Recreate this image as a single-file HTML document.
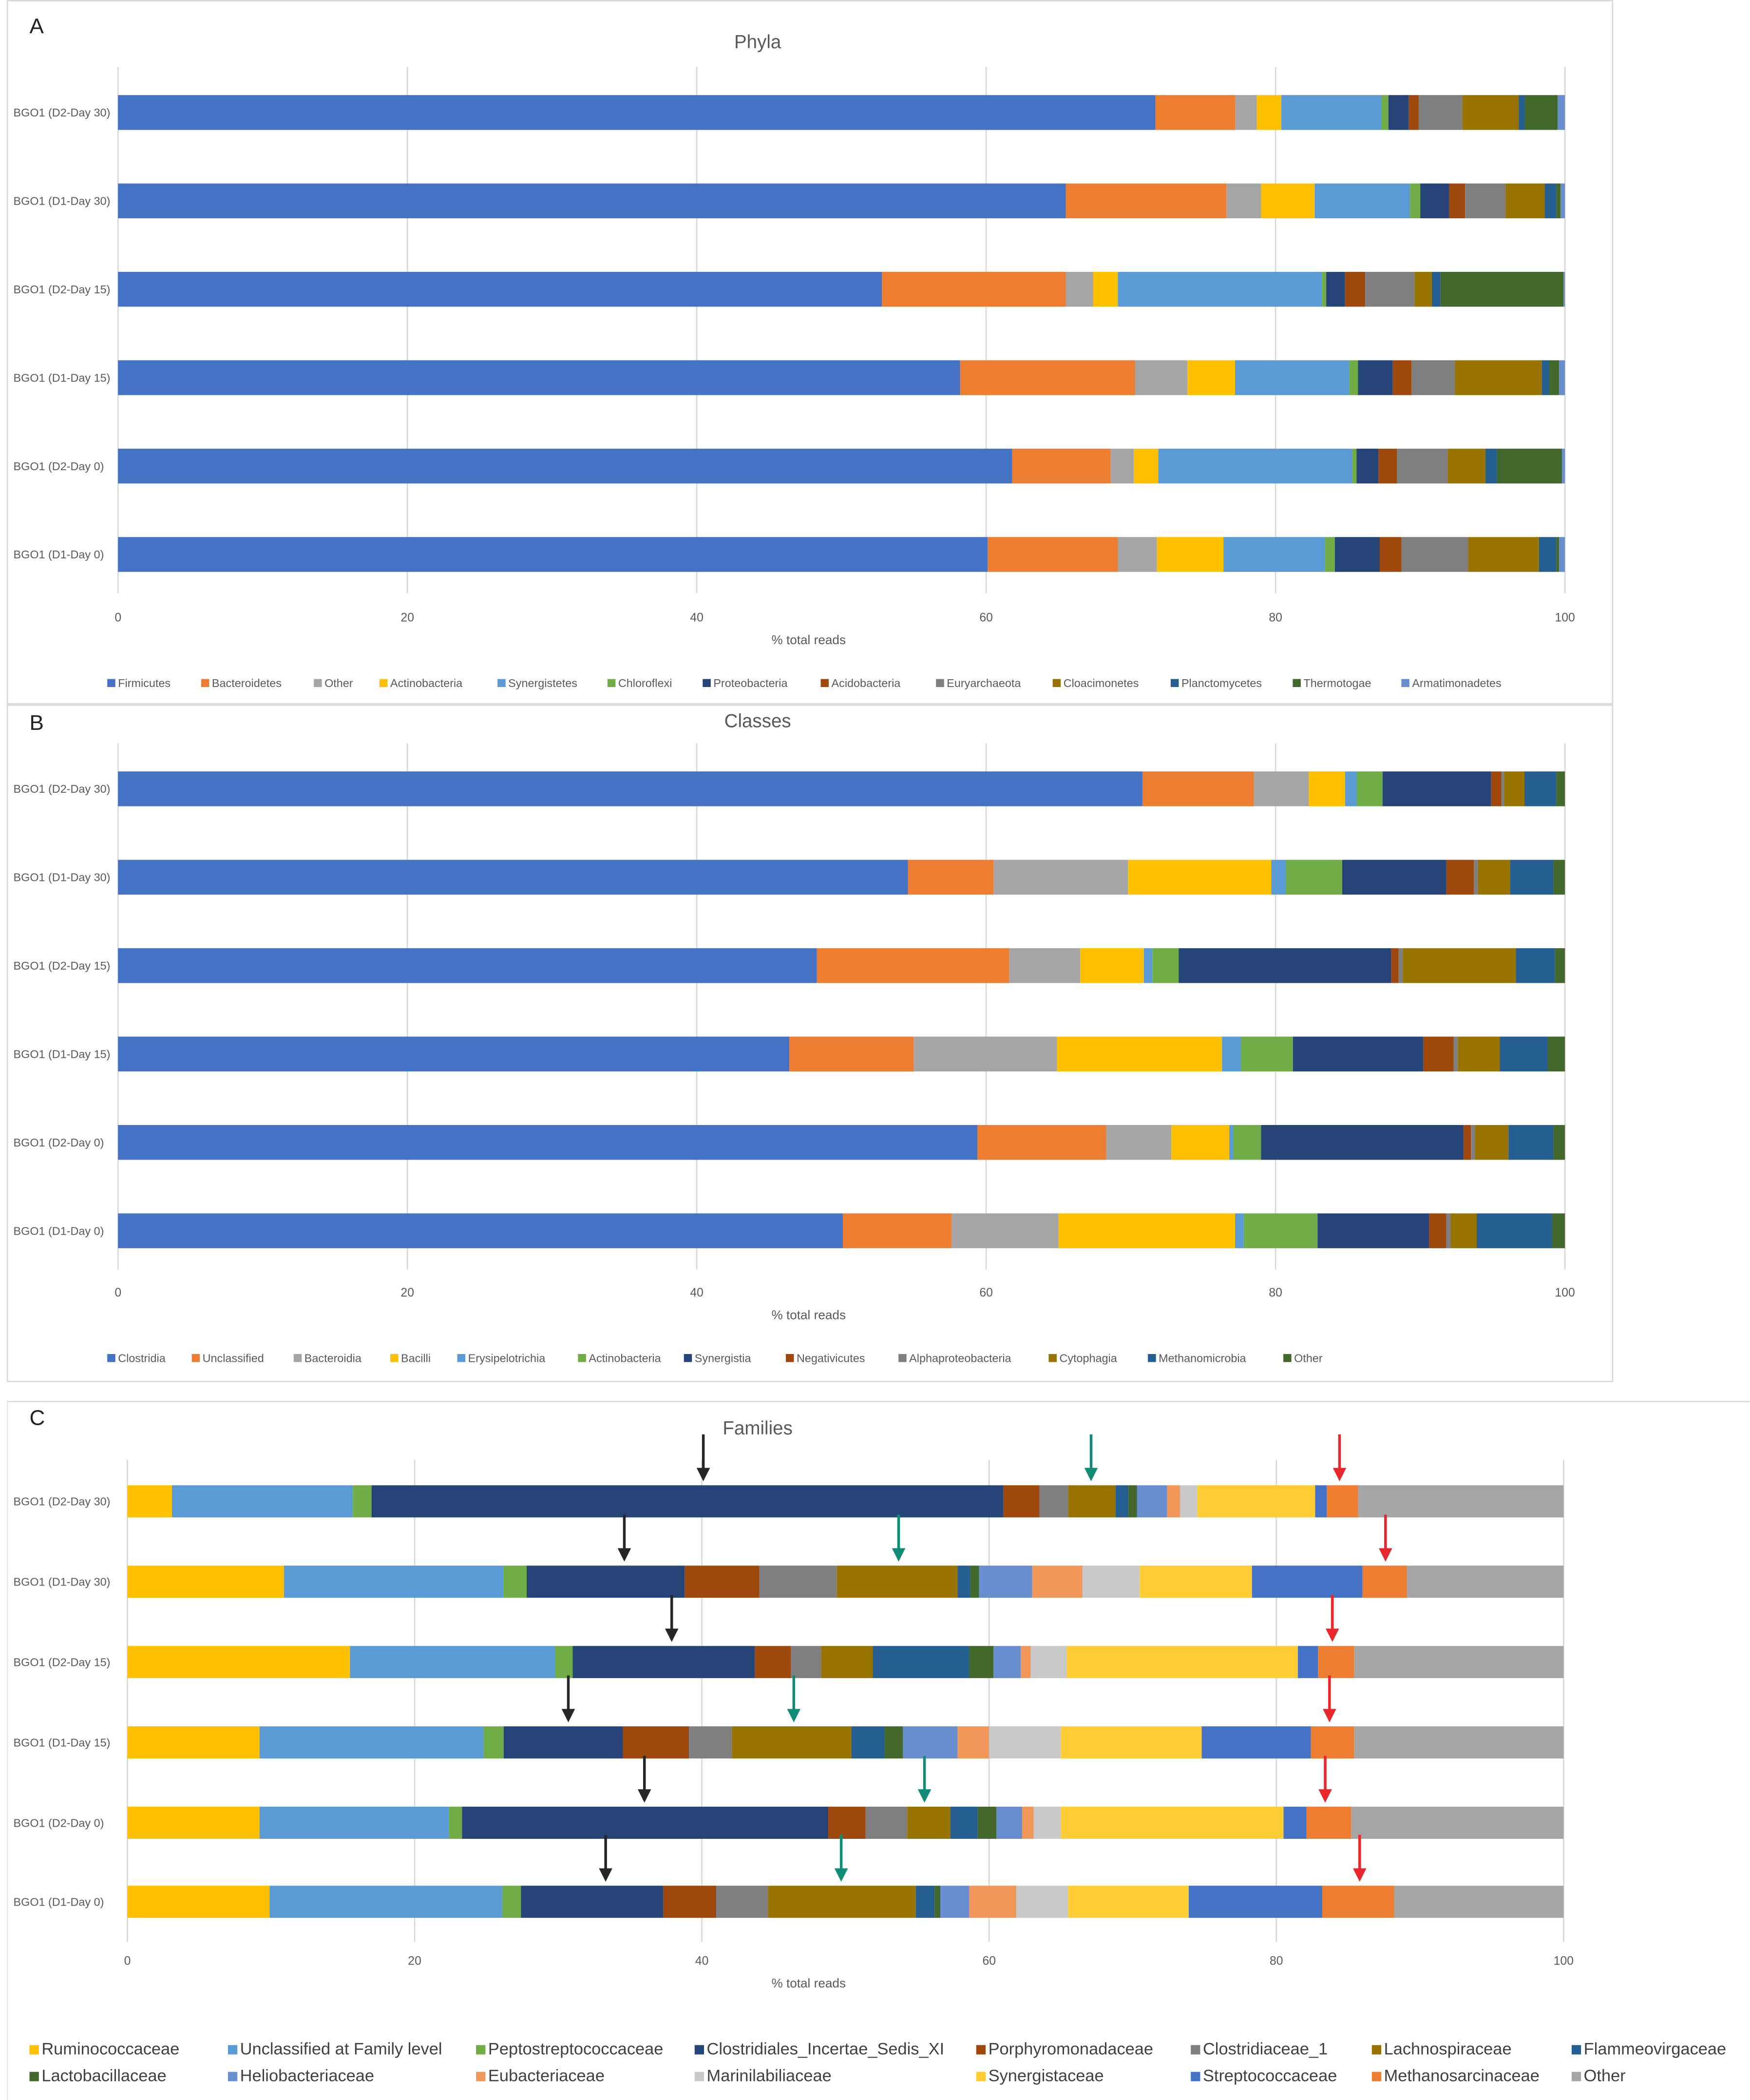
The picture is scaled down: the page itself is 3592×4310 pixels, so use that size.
<!DOCTYPE html>
<html><head><meta charset="utf-8"><style>
html,body{margin:0;padding:0;background:#fff;}
svg{display:block;font-family:"Liberation Sans",sans-serif;}
</style></head><body>
<svg id="fig" width="3592" height="4310" viewBox="0 0 1305 1568" preserveAspectRatio="none" xmlns="http://www.w3.org/2000/svg">
<rect x="0" y="0" width="1305" height="1568" fill="#fff"/>
<rect x="5.5" y="0.5" width="1197" height="525" fill="none" stroke="#d9d9d9"/>
<rect x="5.5" y="526.5" width="1197" height="505" fill="none" stroke="#d9d9d9"/>
<line x1="5" y1="1046.5" x2="1305" y2="1046.5" stroke="#d9d9d9"/>
<line x1="5.5" y1="1046" x2="5.5" y2="1568" stroke="#e8e8e8"/>
<g id="root"></g>
</svg>
<script>
// ---------- shared ----------
const samples = ["BGO1 (D2-Day 30)","BGO1 (D1-Day 30)","BGO1 (D2-Day 15)","BGO1 (D1-Day 15)","BGO1 (D2-Day 0)","BGO1 (D1-Day 0)"];
const tickValues = [0,20,40,60,80,100];
const tickLabels = ["0","20","40","60","80","100"];

// ---------- Panel A: Phyla ----------
const phyla = ["Firmicutes","Bacteroidetes","Other","Actinobacteria","Synergistetes","Chloroflexi","Proteobacteria","Acidobacteria","Euryarchaeota","Cloacimonetes","Planctomycetes","Thermotogae","Armatimonadetes"];
const phylaD2Day30 = [71.7,5.5,1.5,1.7,6.9,0.5,1.4,0.7,3.0,3.9,0.4,2.3,0.5];
const phylaD1Day30 = [65.5,11.1,2.4,3.7,6.6,0.7,2.0,1.1,2.8,2.7,0.8,0.3,0.3];
const phylaD2Day15 = [52.8,12.7,1.9,1.7,14.1,0.3,1.3,1.4,3.4,1.2,0.6,8.5,0.1];
const phylaD1Day15 = [58.2,12.1,3.6,3.3,7.9,0.6,2.4,1.3,3.0,6.0,0.5,0.7,0.4];
const phylaD2Day0 = [61.8,6.8,1.6,1.7,13.4,0.3,1.5,1.3,3.5,2.6,0.8,4.5,0.2];
const phylaD1Day0 = [60.1,9.0,2.7,4.6,7.0,0.7,3.1,1.5,4.6,4.9,1.2,0.2,0.4];

// ---------- Panel B: Classes ----------
const classes = ["Clostridia","Unclassified","Bacteroidia","Bacilli","Erysipelotrichia","Actinobacteria","Synergistia","Negativicutes","Alphaproteobacteria","Cytophagia","Methanomicrobia","Other"];
const classD2Day30 = [70.8,7.7,3.8,2.5,0.8,1.8,7.5,0.7,0.2,1.4,2.2,0.6];
const classD1Day30 = [54.6,5.9,9.3,9.9,1.0,3.9,7.2,1.9,0.3,2.2,3.0,0.8];
const classD2Day15 = [48.3,13.3,4.9,4.4,0.6,1.8,14.7,0.5,0.3,7.8,2.7,0.7];
const classD1Day15 = [46.4,8.6,9.9,11.4,1.3,3.6,9.0,2.1,0.3,2.9,3.3,1.2];
const classD2Day0 = [59.4,8.9,4.5,4.0,0.3,1.9,14.0,0.5,0.3,2.3,3.1,0.8];
const classD1Day0 = [50.1,7.5,7.4,12.2,0.6,5.1,7.7,1.2,0.3,1.8,5.2,0.9];

// ---------- Panel C: Families ----------
const families = ["Ruminococcaceae","Unclassified at Family level","Peptostreptococcaceae","Clostridiales_Incertae_Sedis_XI","Porphyromonadaceae","Clostridiaceae_1","Lachnospiraceae","Flammeovirgaceae","Lactobacillaceae","Heliobacteriaceae","Eubacteriaceae","Marinilabiliaceae","Synergistaceae","Streptococcaceae","Methanosarcinaceae","Other"];
const famD2Day30 = [3.1,12.6,1.3,44.0,2.5,2.0,3.3,0.9,0.6,2.1,0.9,1.2,8.2,0.8,2.2,14.3];
const famD1Day30 = [10.9,15.3,1.6,11.0,5.2,5.4,8.4,0.9,0.6,3.7,3.5,4.0,7.8,7.7,3.1,10.9];
const famD2Day15 = [15.5,14.3,1.2,12.7,2.5,2.1,3.6,6.7,1.7,1.9,0.7,2.5,16.1,1.4,2.5,14.6];
const famD1Day15 = [9.2,15.6,1.4,8.3,4.6,3.0,8.3,2.3,1.3,3.8,2.2,5.0,9.8,7.6,3.0,14.6];
const famD2Day0 = [9.2,13.2,0.9,25.5,2.6,2.9,3.0,1.9,1.3,1.8,0.8,1.9,15.5,1.6,3.1,14.8];
const famD1Day0 = [9.9,16.2,1.3,9.9,3.7,3.6,10.3,1.3,0.4,2.0,3.3,3.6,8.4,9.3,5.0,11.8];
// annotation arrows (% position, one per sample row; null = none)
const arrowsBlack = [40.1,34.6,37.9,30.7,36.0,33.3];
const arrowsTeal = [67.1,53.7,null,46.4,55.5,49.7];
const arrowsRed = [84.4,87.6,83.9,83.7,83.4,85.8];

const colA = ['#4472C4','#ED7D31','#A5A5A5','#FFC000','#5B9BD5','#70AD47','#264478','#9E480E','#7F7F7F','#997300','#255E91','#43682B','#698ED0'];
const colB = ['#4472C4','#ED7D31','#A5A5A5','#FFC000','#5B9BD5','#70AD47','#264478','#9E480E','#7F7F7F','#997300','#255E91','#43682B'];
const colC = ['#FFC000','#5B9BD5','#70AD47','#264478','#9E480E','#7F7F7F','#997300','#255E91','#43682B','#698ED0','#F1975A','#C9C9C9','#FFCD33','#4472C4','#ED7D31','#A5A5A5'];

const NS = "http://www.w3.org/2000/svg";
const root = document.getElementById('root');
function mk(tag, attrs, parent, text){
  const e = document.createElementNS(NS, tag);
  for (const k in attrs) e.setAttribute(k, attrs[k]);
  if (text !== undefined) e.textContent = text;
  (parent||root).appendChild(e);
  return e;
}
function slug(s){return s.toLowerCase().replace(/[^a-z0-9]+/g,'-').replace(/^-|-$/g,'');}

function panel(p){
  const g = mk('g', {});
  
  
  const xs = v => p.x0 + (p.x1 - p.x0) * v / 100;
  const letter = mk('text', {x:p.letterX, y:p.letterY, 'font-size':16, fill:'#222'}, g, p.letter);
  
  
  const title = mk('text', {x:565, y:p.titleY, 'font-size':14, fill:'#595959', 'text-anchor':'middle'}, g, p.title);
  
  
  tickValues.forEach((t,i)=>{
    const l = mk('line', {x1:xs(t), x2:xs(t), y1:p.gridTop, y2:p.gridBot, stroke:'#d9d9d9', 'stroke-width':1}, g);
    
    
    const tx = mk('text', {x:xs(t), y:p.tickY, 'font-size':9, fill:'#595959', 'text-anchor':'middle'}, g, tickLabels[i]);
    
    
  });
  const at = mk('text', {x:603, y:p.axisTitleY, 'font-size':9.5, fill:'#595959', 'text-anchor':'middle'}, g, '% total reads');
  
  
  p.rows.forEach((vals, r)=>{
    const cy = p.rowY[r];
    const lab = mk('text', {x:10, y:cy+3, 'font-size':8.5, fill:'#595959'}, g, samples[r]);
    
    
    let acc = 0;
    vals.forEach((v,i)=>{
      const x = xs(acc), w = xs(acc+v) - x;
      const rc = mk('rect', {x:x, y:cy - p.barH/2, width:Math.max(w,0), height:p.barH, fill:p.colors[i]}, g);
      
      
      acc += v;
    });
  });
  // legend
  p.cats.forEach((c,i)=>{
    const pos = p.legendPos(i);
    const lg = mk('g', {}, g);
    
    
    mk('rect', {x:pos[0], y:pos[1]-p.legSq+1, width:p.legSq, height:p.legSq, fill:p.colors[i]}, lg);
    mk('text', {x:pos[0]+p.legSq+2, y:pos[1]+1, 'font-size':p.legFont, fill:p.legColor}, lg, c);
  });
  return {g, xs};
}

const legAx = [80,150,234,283,371,453,524,612,698,785,873,964,1045];
const legBx = [80,143,219,291,341,431,510,586,670,782,856,957];
const legCx = [22,170,355,518,728,888,1023,1172];

panel({id:'phyla', letter:'A', letterX:22, letterY:25, title:'Phyla', titleY:36,
  x0:88, x1:1167, gridTop:50, gridBot:443, tickY:464, axisTitleY:481,
  rowY:[84,150,216,282,348,414], barH:26,
  rows:[phylaD2Day30,phylaD1Day30,phylaD2Day15,phylaD1Day15,phylaD2Day0,phylaD1Day0],
  cats:phyla, colors:colA, legSq:6, legFont:8.5, legColor:'#595959',
  legendPos:i=>[legAx[i],512]});

panel({id:'classes', letter:'B', letterX:22, letterY:545, title:'Classes', titleY:543,
  x0:88, x1:1167, gridTop:555, gridBot:948, tickY:968, axisTitleY:985,
  rowY:[589,655,721,787,853,919], barH:26,
  rows:[classD2Day30,classD1Day30,classD2Day15,classD1Day15,classD2Day0,classD1Day0],
  cats:classes, colors:colB, legSq:6, legFont:8.5, legColor:'#595959',
  legendPos:i=>[legBx[i],1016]});

const pc = panel({id:'families', letter:'C', letterX:22, letterY:1064, title:'Families', titleY:1071,
  x0:95, x1:1166, gridTop:1090, gridBot:1450, tickY:1467, axisTitleY:1484,
  rowY:[1121,1181,1241,1301,1361,1420], barH:24,
  rows:[famD2Day30,famD1Day30,famD2Day15,famD1Day15,famD2Day0,famD1Day0],
  cats:families, colors:colC, legSq:7, legFont:12.5, legColor:'#404040',
  legendPos:i=>[legCx[i%8], i<8 ? 1533 : 1553]});

// arrows
const rowTopsC = [1109,1169,1229,1289,1349,1408];
function arrows(arr, color, name){
  arr.forEach((v,r)=>{
    if (v === null) return;
    const x = pc.xs(v), tip = rowTopsC[r] - 3, top = tip - 35;
    const a = mk('g', {}, pc.g);
    
    
    mk('line', {x1:x, x2:x, y1:top, y2:tip-8, stroke:color, 'stroke-width':2}, a);
    mk('polygon', {points:(x-5)+','+(tip-10)+' '+(x+5)+','+(tip-10)+' '+x+','+tip, fill:color}, a);
  });
}
arrows(arrowsBlack, '#262626', 'black');
arrows(arrowsTeal, '#0E8C76', 'teal');
arrows(arrowsRed, '#E8262B', 'red');
</script>
</body></html>
